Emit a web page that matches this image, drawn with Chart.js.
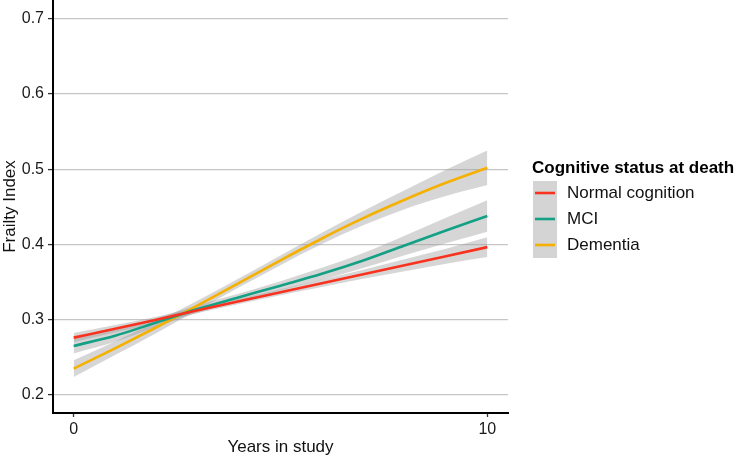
<!DOCTYPE html>
<html>
<head>
<meta charset="utf-8">
<title>Frailty Index by cognitive status</title>
<script src="https://cdn.jsdelivr.net/npm/chart.js@4/dist/chart.umd.min.js"></script>
<style>
  html, body { margin: 0; padding: 0; background: #fff; }
  #wrap { width: 739px; height: 458px; }
</style>
</head>
<body>
<div id="wrap"><canvas id="frailty"></canvas></div>
<script>
// fitted curves, one value per year
const YEARS = [0, 1, 2, 3, 4, 5, 6, 7, 8, 9, 10];
const X_TICKS = [0, 10];
const Y_TICKS = [0.2, 0.3, 0.4, 0.5, 0.6, 0.7];

const SERIES_NAMES = ['Normal cognition', 'MCI', 'Dementia'];
const SERIES_COLORS = ['#f8321e', '#13a085', '#f5b000'];

const NORMAL_FIT = [0.2762, 0.288, 0.300, 0.3125, 0.3245, 0.3365, 0.3485, 0.3605, 0.3725, 0.3845, 0.3965];
const NORMAL_LO = [0.2702, 0.283, 0.296, 0.309, 0.321, 0.3325, 0.3435, 0.3545, 0.3645, 0.3745, 0.3835];
const NORMAL_HI = [0.2822, 0.293, 0.304, 0.316, 0.328, 0.3405, 0.3535, 0.3665, 0.3805, 0.3945, 0.4095];

const MCI_FIT = [0.2652, 0.2787, 0.2964, 0.3142, 0.3298, 0.3453, 0.361, 0.3787, 0.3987, 0.4187, 0.4378];
const MCI_LO = [0.2552, 0.2707, 0.2904, 0.3092, 0.3248, 0.3393, 0.353, 0.3687, 0.3857, 0.4017, 0.4168];
const MCI_HI = [0.2752, 0.2867, 0.3024, 0.3192, 0.3348, 0.3513, 0.369, 0.3887, 0.4117, 0.4357, 0.4588];

const DEMENTIA_FIT = [0.235, 0.262, 0.290, 0.319, 0.349, 0.379, 0.408, 0.435, 0.4595, 0.482, 0.502];
const DEMENTIA_LO = [0.224, 0.253, 0.2825, 0.3125, 0.343, 0.3725, 0.4005, 0.4255, 0.447, 0.4645, 0.479];
const DEMENTIA_HI = [0.246, 0.271, 0.2975, 0.3255, 0.355, 0.3855, 0.4155, 0.4445, 0.472, 0.4995, 0.525];

const BAND_FILL = 'rgba(153,153,153,0.4)';
const FONT = "'Liberation Sans', Arial, Helvetica, sans-serif";

function pts(vals) {
  return YEARS.map((x, i) => ({ x, y: vals[i] }));
}

function bandSets(lo, hi) {
  return [
    { data: pts(hi), fill: '+1', backgroundColor: BAND_FILL, borderWidth: 0, pointRadius: 0, cubicInterpolationMode: 'monotone', order: 1 },
    { data: pts(lo), fill: false, borderWidth: 0, pointRadius: 0, cubicInterpolationMode: 'monotone', order: 1 }
  ];
}

function lineSet(vals, color) {
  return { data: pts(vals), borderColor: color, borderWidth: 2.6, pointRadius: 0, fill: false, cubicInterpolationMode: 'monotone', order: 0 };
}

const datasets = [
  ...bandSets(NORMAL_LO, NORMAL_HI),
  ...bandSets(MCI_LO, MCI_HI),
  ...bandSets(DEMENTIA_LO, DEMENTIA_HI),
  lineSet(NORMAL_FIT, SERIES_COLORS[0]),
  lineSet(MCI_FIT, SERIES_COLORS[1]),
  lineSet(DEMENTIA_FIT, SERIES_COLORS[2])
];

// ggplot style legend: one grey key box with coloured strokes
const sideLegend = {
  id: 'sideLegend',
  afterDraw(chart) {
    const ctx = chart.ctx;
    const x0 = chart.chartArea.right + 25;
    ctx.save();
    ctx.fillStyle = '#000';
    ctx.font = 'bold 17px ' + FONT;
    ctx.textBaseline = 'alphabetic';
    ctx.fillText('Cognitive status at death', x0 - 1, 172.5);

    ctx.fillStyle = '#d4d4d4';
    ctx.fillRect(x0, 181, 24, 77);

    ctx.font = '17px ' + FONT;
    ctx.textBaseline = 'middle';
    SERIES_NAMES.forEach((name, i) => {
      const y = 193 + i * 26;
      ctx.strokeStyle = SERIES_COLORS[i];
      ctx.lineWidth = 2.6;
      ctx.beginPath();
      ctx.moveTo(x0 + 2, y);
      ctx.lineTo(x0 + 22, y);
      ctx.stroke();
      ctx.fillStyle = '#111';
      ctx.fillText(name, x0 + 34, y);
    });
    ctx.restore();
  }
};

new Chart(document.getElementById('frailty'), {
  type: 'line',
  data: { datasets },
  options: {
    responsive: true,
    maintainAspectRatio: false,
    animation: false,
    layout: { padding: { left: 0, top: 0, right: 231, bottom: 0 } },
    plugins: {
      legend: { display: false },
      tooltip: { enabled: false }
    },
    scales: {
      x: {
        type: 'linear',
        min: -0.5,
        max: 10.5,
        afterBuildTicks: s => { s.ticks = X_TICKS.map(v => ({ value: v })); },
        afterFit: s => { s.height = 45; s.paddingLeft = 0; s.paddingRight = 0; },
        grid: { drawOnChartArea: false, tickLength: 4, tickColor: '#333', tickWidth: 1.3 },
        border: { color: '#000', width: 2 },
        ticks: { color: '#1a1a1a', font: { size: 16, family: FONT }, padding: 3, maxRotation: 0 },
        title: { display: true, text: 'Years in study', color: '#111', font: { size: 17, family: FONT }, padding: 0 }
      },
      y: {
        type: 'linear',
        min: 0.176,
        max: 0.725,
        afterBuildTicks: s => { s.ticks = Y_TICKS.map(v => ({ value: v })); },
        afterFit: s => { s.width = 53; s.paddingTop = 0; s.paddingBottom = 0; },
        grid: { color: '#c6c6c6', lineWidth: 1.2, tickLength: 5, tickColor: '#333', tickWidth: 1.3 },
        border: { color: '#000', width: 2 },
        ticks: { color: '#1a1a1a', font: { size: 16, family: FONT }, padding: 4, callback: v => v.toFixed(1) },
        title: { display: true, text: 'Frailty Index', color: '#111', font: { size: 17, family: FONT }, padding: 0 }
      }
    }
  },
  plugins: [sideLegend]
});
</script>
</body>
</html>
